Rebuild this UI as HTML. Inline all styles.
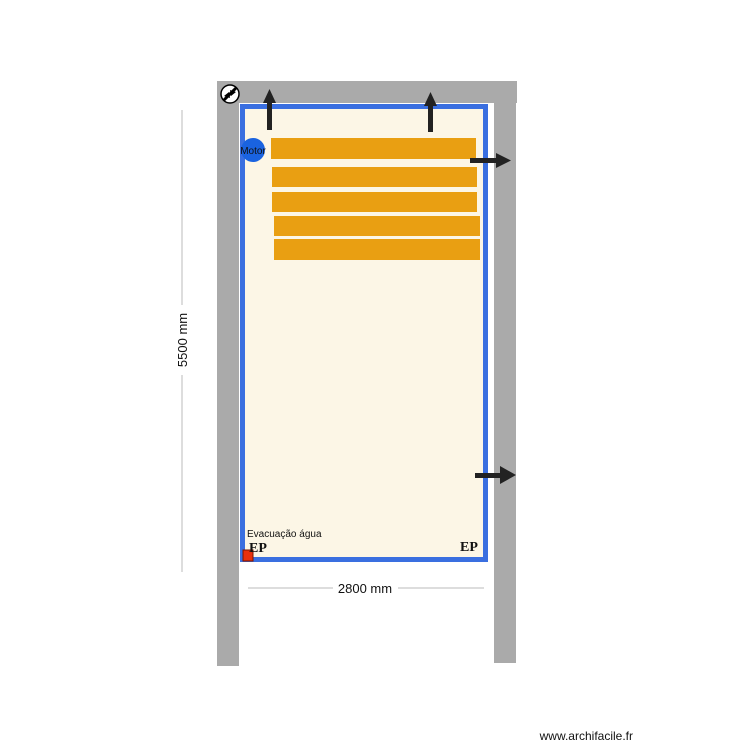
<!DOCTYPE html>
<html><head><meta charset="utf-8"><style>
html,body{margin:0;padding:0;background:#fff;}
</style></head><body>
<svg width="750" height="750" viewBox="0 0 750 750" xmlns="http://www.w3.org/2000/svg" font-family="Liberation Sans, sans-serif">
<rect x="217" y="81" width="300" height="22" fill="#aaaaaa"/>
<rect x="217" y="81" width="22" height="585" fill="#aaaaaa"/>
<rect x="494" y="103" width="22" height="560" fill="#aaaaaa"/>
<rect x="242.5" y="106.5" width="243" height="453" fill="#fcf6e6" stroke="#3a6fe0" stroke-width="5"/>
<g fill="#e99f12">
<rect x="271" y="138" width="205" height="21"/>
<rect x="272" y="167" width="205" height="20"/>
<rect x="272" y="192" width="205" height="20"/>
<rect x="274" y="216" width="206" height="20"/>
<rect x="274" y="239" width="206" height="21"/>
</g>
<circle cx="253" cy="150" r="12" fill="#1a63e0"/>
<text x="253" y="154" font-size="10" text-anchor="middle" fill="#111">Motor</text>
<g fill="#222">
<rect x="267" y="102" width="5" height="28"/><polygon points="263,103 276,103 269.5,89"/>
<rect x="428" y="104" width="5" height="28"/><polygon points="424,106 437,106 430.5,92"/>
<rect x="470" y="158" width="28" height="5"/><polygon points="496,153 496,168 511,160.5"/>
<rect x="475" y="473" width="28" height="5"/><polygon points="500,466 500,484 516,475"/>
</g>
<circle cx="230" cy="94" r="9" fill="#fff" stroke="#000" stroke-width="1.5"/>
<path d="M224,100 L236,88" stroke="#000" stroke-width="3"/>
<polygon points="224,96 229,92 230,98" fill="#000"/><polygon points="236,92 231,96 230,90" fill="#000"/>
<rect x="243" y="550" width="10" height="11" fill="#e8300c" stroke="#7a1500" stroke-width="1"/>
<text x="247" y="537" font-size="10" fill="#111">Evacuação água</text>
<text x="249" y="552" font-size="14" font-weight="bold" font-family="Liberation Serif, serif" fill="#111">EP</text>
<text x="460" y="551" font-size="14" font-weight="bold" font-family="Liberation Serif, serif" fill="#111">EP</text>
<line x1="248" y1="588" x2="333" y2="588" stroke="#bbb"/>
<line x1="398" y1="588" x2="484" y2="588" stroke="#bbb"/>
<text x="365" y="593" font-size="13" text-anchor="middle" fill="#111">2800 mm</text>
<line x1="182" y1="110" x2="182" y2="305" stroke="#bbb"/>
<line x1="182" y1="375" x2="182" y2="572" stroke="#bbb"/>
<text x="0" y="0" font-size="13" text-anchor="middle" fill="#111" transform="translate(187,340) rotate(-90)">5500 mm</text>
<text x="633" y="740" font-size="12" text-anchor="end" fill="#111">www.archifacile.fr</text>
</svg>
</body></html>
